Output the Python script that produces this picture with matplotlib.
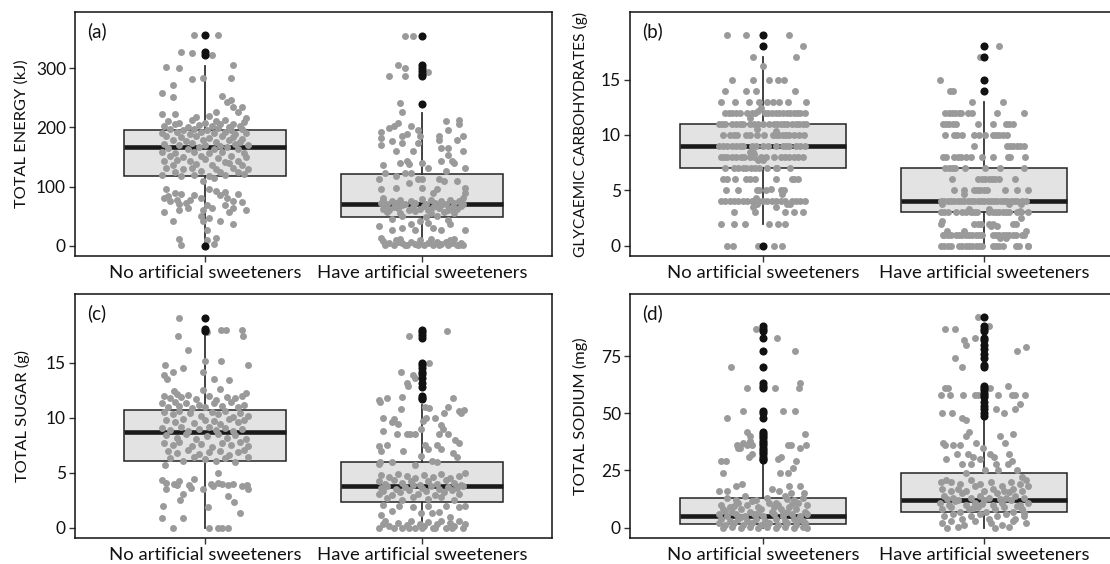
import matplotlib
matplotlib.use("Agg")
import matplotlib.pyplot as plt

# ---------------- data ----------------
categories = ["No artificial sweeteners", "Have artificial sweeteners"]
panel_tags = ["(a)", "(b)", "(c)", "(d)"]
y_titles = ["TOTAL ENERGY (kJ)", "GLYCAEMIC CARBOHYDRATES (g)",
            "TOTAL SUGAR (g)", "TOTAL SODIUM (mg)"]
y_ticks_a = [0, 100, 200, 300]
y_ticks_b = [0, 5, 10, 15]
y_ticks_c = [0, 5, 10, 15]
y_ticks_d = [0, 25, 50, 75]

# box statistics [q1, median, q3, whisker_low, whisker_high]
energy_box = [[118, 167, 196, 2, 304], [48, 71, 122, 0, 225]]
glyc_box = [[7, 9, 11, 2, 17], [3, 4, 7, 0, 13]]
sugar_box = [[6.1, 8.7, 10.75, 0, 17.7], [2.3, 3.8, 6.0, 0, 11.2]]
sodium_box = [[1.8, 5, 12.8, 0, 28.4], [7, 12, 23.8, 0, 47.4]]

# outliers
energy_out = [[356, 327, 323, 0], [355, 305, 300, 295, 290, 287, 240]]
glyc_out = [[19, 18, 0], [18, 17, 15, 14]]
sugar_out = [[19.1, 18.1, 17.9],
             [18.0, 17.8, 17.5, 17.3, 15.0, 14.8, 14.5, 14.2, 14.0, 13.6,
              13.2, 12.8, 12.0, 11.8, 11.7]]
sodium_out = [[88, 87, 86, 83, 77, 70, 63, 62, 61, 51, 50, 48, 42, 41, 40, 39,
               38, 37, 36, 35, 34, 33, 32, 31, 30, 29.5],
              [92, 88, 87, 86, 83, 82, 80, 78, 76, 74, 71, 70, 62, 61, 60, 59,
               58, 57, 55, 53, 52, 50, 49]]

# jittered observations: (jitter offset, value)
energy_no = [
    (-0.05, 356), (0.06, 356), (-0.11, 327), (-0.06, 325), (0.03, 323),
    (-0.18, 302), (-0.12, 300), (0.13, 305), (-0.06, 281), (-0.01, 284), (0.12, 283),
    (-0.15, 271), (-0.20, 258), (-0.15, 252), (0.08, 253), (0.12, 247), (0.10, 243),
    (0.13, 235), (0.17, 235), (0.15, 226), (-0.20, 222), (-0.14, 222), (-0.04, 218),
    (0.02, 220), (0.05, 226), (0.19, 216),
    (-0.17, 211), (-0.12, 208), (-0.06, 212), (0.00, 207), (0.05, 210), (0.09, 213), (0.13, 206), (0.18, 209),
    (-0.19, 203), (-0.14, 205), (-0.08, 201), (-0.03, 204), (0.03, 202), (0.07, 205), (0.11, 200), (0.16, 203),
    (-0.16, 197), (-0.10, 196), (-0.05, 198), (0.01, 195), (0.06, 199), (0.12, 196), (0.17, 198),
    (-0.20, 191), (-0.13, 192), (-0.07, 189), (-0.02, 193), (0.04, 190), (0.09, 192), (0.14, 188), (0.19, 191),
    (-0.18, 185), (-0.11, 183), (-0.04, 186), (0.02, 182), (0.08, 185), (0.13, 184), (0.17, 181),
    (-0.15, 178), (-0.09, 177), (-0.01, 179), (0.05, 176), (0.11, 178), (0.16, 175),
    (-0.19, 172), (-0.12, 170), (-0.06, 173), (0.00, 171), (0.07, 169), (0.14, 172), (0.20, 170),
    (-0.17, 165), (-0.08, 164), (-0.03, 166), (0.04, 163), (0.10, 166), (0.15, 164),
    (-0.20, 158), (-0.14, 157), (-0.05, 159), (0.02, 156), (0.08, 158), (0.18, 157),
    (-0.16, 151), (-0.10, 150), (-0.02, 152), (0.06, 149), (0.12, 151), (0.19, 150),
    (-0.19, 144), (-0.13, 145), (-0.07, 143), (0.00, 146), (0.09, 142), (0.15, 144),
    (-0.15, 137), (-0.04, 138), (0.03, 136), (0.11, 139), (0.17, 137),
    (-0.18, 131), (-0.10, 130), (-0.06, 132), (0.05, 129), (0.13, 131), (0.20, 130),
    (-0.14, 125), (-0.02, 126), (0.07, 124), (0.15, 125),
    (-0.20, 119), (-0.11, 118), (-0.05, 120), (0.02, 117), (0.09, 119), (0.18, 121),
    (-0.01, 109), (0.04, 115), (-0.18, 95), (-0.14, 89), (-0.11, 87), (-0.19, 81),
    (-0.16, 75), (-0.13, 78), (-0.09, 72), (-0.05, 86), (-0.02, 81), (0.02, 95),
    (0.05, 92), (0.09, 91), (0.10, 80), (0.13, 75), (0.17, 74), (0.01, 69), (0.03, 64),
    (0.09, 69), (0.13, 64), (-0.19, 57), (-0.12, 60), (-0.08, 64), (-0.01, 61), (0.19, 60),
    (-0.15, 41), (-0.01, 41), (0.07, 41), (0.13, 36), (0.01, 26), (-0.12, 11), (-0.11, 1),
    (0.01, 10), (0.05, 13), (0.04, 3), (-0.02, 50), (0.02, 47),
    (-0.17, 84), (-0.07, 78), (0.07, 85), (0.15, 88), (-0.12, 70), (0.11, 57),
]
energy_have = [
    (-0.08, 355), (-0.04, 354), (-0.11, 305), (-0.08, 300), (-0.15, 287), (-0.08, 287),
    (0.03, 293), (-0.10, 241), (-0.09, 226),
    (-0.11, 208), (-0.13, 202), (-0.15, 199), (-0.19, 193), (-0.19, 182), (-0.19, 171),
    (-0.14, 177), (-0.09, 174), (-0.09, 185), (-0.05, 202), (-0.07, 189), (-0.02, 195),
    (-0.01, 185), (-0.02, 174), (-0.04, 160), (-0.12, 160),
    (0.11, 210), (0.17, 213), (0.17, 206), (0.12, 195), (0.08, 185), (0.08, 179), (0.16, 179),
    (0.19, 185), (0.09, 165), (0.12, 165), (0.19, 160), (0.12, 154), (0.09, 144), (0.14, 144),
    (0.15, 140), (0.20, 131),
    (-0.18, 137), (-0.10, 140), (-0.07, 143), (-0.06, 138), (0.00, 140), (0.03, 131), (0.11, 127),
    (-0.17, 123), (-0.12, 118), (-0.08, 123), (-0.05, 123), (-0.02, 113), (0.00, 113),
    (0.08, 112), (0.10, 109), (0.16, 109),
    (-0.20, 112), (-0.19, 95), (-0.18, 81), (-0.12, 98), (-0.06, 106), (0.00, 98),
    (0.05, 89), (0.07, 95), (0.20, 98), (0.20, 89), (0.19, 80),
    (-0.18, 77), (-0.14, 75), (-0.10, 78), (-0.05, 76), (0.00, 79), (0.04, 77), (0.09, 75), (0.13, 78), (0.17, 76),
    (-0.19, 72), (-0.16, 70), (-0.12, 73), (-0.08, 71), (-0.03, 72), (0.02, 70), (0.06, 73), (0.11, 71), (0.15, 72), (0.19, 70),
    (-0.17, 67), (-0.13, 66), (-0.09, 68), (-0.04, 65), (0.01, 67), (0.05, 66), (0.09, 68), (0.14, 65), (0.18, 67),
    (-0.18, 62), (-0.15, 61), (-0.11, 63), (-0.06, 60), (-0.01, 62), (0.03, 61), (0.08, 63), (0.12, 60), (0.16, 62),
    (-0.16, 57), (-0.10, 56), (-0.03, 58), (0.04, 55), (0.10, 57), (0.15, 56),
    (-0.09, 50), (0.02, 48), (0.07, 51), (-0.14, 45), (0.12, 44),
    (-0.20, 33), (-0.14, 27), (-0.09, 30), (-0.05, 36), (-0.03, 27), (-0.01, 41), (0.03, 38),
    (0.05, 30), (0.09, 27), (0.13, 36), (0.20, 27), (-0.19, 13),
    (-0.18, 8), (-0.15, 5), (-0.13, 2), (-0.11, 7), (-0.09, 4), (-0.07, 1), (-0.05, 6),
    (-0.03, 3), (-0.01, 9), (0.01, 2), (0.03, 5), (0.05, 1), (0.07, 7), (0.09, 3),
    (0.11, 6), (0.12, 1), (0.14, 4), (0.16, 2), (0.18, 5), (0.19, 1),
    (-0.17, 1), (-0.12, 10), (-0.08, 1), (-0.02, 1), (0.04, 11), (0.08, 1), (0.13, 9),
    (0.17, 1), (-0.10, 12), (0.15, 12),
]

# glycaemic carbohydrates: values occur at levels, offsets per level
glyc_no_levels = [19, 18, 17, 16.2, 15, 14, 13, 12.4, 12.2, 12, 11.5, 11, 10.5, 10.4, 10,
                  9, 8.5, 8.3, 8, 7.7, 7, 6, 5.1, 5, 4.7, 4.3, 4, 3.8, 3.5, 3, 2, 0]
glyc_no_dx = [
    [-0.16, -0.075, 0.12], [0.18], [-0.045, 0.15], [0.0],
    [-0.14, -0.045, 0.03, 0.07, 0.095], [-0.17, -0.075, -0.03, 0.145],
    [-0.19, -0.125, -0.063, -0.015, 0.02, 0.045, 0.075, 0.115, 0.195], [-0.01], [-0.02],
    [-0.17, -0.155, -0.14, -0.12, -0.105, -0.07, -0.05, -0.035, 0.01, 0.025, 0.04, 0.06,
     0.075, 0.09, 0.11, 0.125, 0.14, 0.155, 0.17, 0.19], [-0.06],
    [-0.2, -0.185, -0.17, -0.14, -0.12, -0.105, -0.09, -0.06, -0.04, -0.02, 0.0, 0.03, 0.05,
     0.065, 0.08, 0.095, 0.11, 0.13, 0.15, 0.165, 0.18, 0.195], [-0.025], [0.06],
    [-0.18, -0.15, -0.13, -0.115, -0.075, -0.06, -0.025, 0.005, 0.045, 0.06, 0.075, 0.09,
     0.105, 0.12, 0.14, 0.165, 0.185],
    [-0.2, -0.18, -0.16, -0.14, -0.12, -0.105, -0.09, -0.05, -0.03, 0.0, 0.025, 0.06, 0.09,
     0.105, 0.12, 0.15, 0.17, 0.19], [-0.06, -0.045], [-0.04],
    [-0.19, -0.175, -0.16, -0.14, -0.12, -0.1, -0.085, -0.06, -0.04, -0.01, 0.015, 0.05,
     0.08, 0.1, 0.12, 0.14, 0.16, 0.18], [-0.02, 0.0],
    [-0.17, -0.13, -0.11, -0.09, -0.075, -0.055, -0.035, -0.015, 0.02, 0.06, 0.065, 0.125],
    [-0.18, -0.16, -0.125, -0.075, -0.06, -0.035, 0.06, 0.13, 0.14, 0.16], [0.035],
    [-0.165, -0.11, -0.025, -0.015, 0.015, 0.08, 0.095], [0.085], [-0.03],
    [-0.19, -0.17, -0.15, -0.13, -0.11, -0.09, -0.07, -0.05, -0.03, -0.015, 0.0, 0.02, 0.04,
     0.06, 0.08, 0.1, 0.13, 0.15, 0.17, 0.19], [-0.025, 0.11, 0.125], [-0.045, 0.06],
    [-0.13, -0.035, 0.1, 0.14, 0.18], [-0.19, -0.13, -0.08, 0.03, 0.07, 0.1],
    [-0.16, -0.135, -0.02, 0.05, 0.085],
]
glyc_have_levels = [18, 17, 15, 14, 13, 12, 11, 10, 9, 8, 7, 6, 5, 4.7, 4, 3.8, 3, 3.3, 3.1,
                    2.5, 2.2, 2, 1.8, 1.3, 1, 0.7, 0]
glyc_have_dx = [
    [0.065], [-0.02], [-0.20], [-0.155, -0.14], [-0.055, 0.085],
    [-0.176, -0.161, -0.146, -0.131, -0.116, -0.105, -0.071, -0.053, 0.06, 0.178],
    [-0.188, -0.173, -0.158, -0.14, -0.128, -0.03, 0.038, 0.098, 0.113, 0.128],
    [-0.178, -0.135, -0.123, -0.098, -0.045, -0.023, 0.005, 0.038, 0.053, 0.068, 0.083, 0.105],
    [-0.045, 0.102, 0.117, 0.132, 0.147, 0.163, 0.178],
    [-0.188, -0.173, -0.135, -0.12, -0.105, -0.083, -0.06, -0.01, 0.038, 0.108, 0.116, 0.184],
    [-0.176, -0.161, -0.146, -0.131, -0.086, 0.005, 0.072, 0.178],
    [-0.147, -0.026, -0.011, 0.005, 0.02, 0.035, 0.05, 0.065, 0.14],
    [-0.135, -0.093, -0.048, -0.033, -0.018, -0.003, 0.012, 0.095, 0.15, 0.196], [-0.09],
    [-0.195, -0.18, -0.165, -0.15, -0.135, -0.12, -0.105, -0.09, -0.075, -0.06, -0.045, -0.03,
     -0.015, 0.0, 0.015, 0.03, 0.045, 0.06, 0.075, 0.09, 0.105, 0.12, 0.135, 0.15, 0.17, 0.19],
    [-0.19, 0.11, 0.165],
    [-0.195, -0.18, -0.165, -0.128, -0.098, -0.083, -0.06, -0.045, -0.033, 0.023, 0.038,
     0.053, 0.068, 0.083, 0.098, 0.113, 0.15, 0.165, 0.196], [-0.07, 0.02], [0.16],
    [0.165], [-0.19], [-0.195, -0.045, -0.03, -0.015, 0.023, 0.038, 0.128, 0.143], [0.03, 0.06],
    [-0.17, 0.19, -0.09],
    [-0.188, -0.18, -0.165, -0.15, -0.128, -0.113, -0.098, -0.083, -0.068, -0.053, -0.038,
     -0.023, -0.008, 0.038, 0.053, 0.068, 0.083, 0.098, 0.113, 0.128, 0.143, 0.173, 0.18],
    [0.07, 0.1],
    [-0.195, -0.18, -0.165, -0.15, -0.113, -0.098, -0.083, -0.068, -0.053, -0.038, -0.023,
     -0.008, 0.038, 0.053, 0.068, 0.083, 0.143, 0.158, 0.196, 0.2],
]

sugar_no = [
    (-0.12, 19.1), (0.075, 18.0), (0.095, 18.0), (0.17, 18.0), (0.01, 17.8), (0.175, 17.4),
    (-0.125, 17.4), (-0.08, 16.2), (0.0, 15.2), (0.075, 15.2), (0.2, 14.8), (-0.185, 14.8),
    (-0.10, 14.5), (-0.15, 14.2), (-0.01, 14.2), (-0.19, 13.9), (0.04, 13.5), (0.11, 13.4),
    (-0.175, 13.5), (-0.01, 12.5), (0.07, 12.6), (0.19, 12.3), (-0.145, 12.4),
    (-0.19, 12.0), (-0.16, 11.8), (-0.13, 12.2), (-0.11, 11.9), (-0.08, 12.1), (-0.04, 11.7),
    (0.02, 12.0), (0.05, 11.6), (0.1, 11.9), (0.14, 11.8), (0.17, 12.0),
    (-0.2, 11.3), (-0.17, 11.0), (-0.14, 11.4), (-0.12, 11.1), (-0.09, 11.3), (-0.06, 10.9),
    (-0.03, 11.2), (0.0, 11.0), (0.04, 11.3), (0.08, 11.1), (0.12, 11.4), (0.15, 11.0), (0.18, 11.2),
    (-0.19, 10.5), (-0.15, 10.3), (-0.12, 10.6), (-0.07, 10.4), (-0.02, 10.2), (0.03, 10.5),
    (0.06, 10.3), (0.09, 10.6), (0.13, 10.1), (0.16, 10.4), (0.2, 10.2),
    (-0.18, 9.8), (-0.14, 9.6), (-0.1, 9.9), (-0.05, 9.5), (0.0, 9.8), (0.04, 9.7), (0.07, 9.4),
    (0.11, 9.9), (0.15, 9.6), (0.18, 9.8),
    (-0.2, 9.1), (-0.16, 8.9), (-0.11, 9.2), (-0.08, 8.8), (-0.03, 9.0), (0.02, 9.2), (0.05, 8.9),
    (0.09, 9.1), (0.13, 8.8), (0.17, 9.0),
    (-0.18, 8.4), (-0.13, 8.2), (-0.09, 8.5), (-0.04, 8.1), (0.01, 8.3), (0.06, 8.5), (0.1, 8.2),
    (0.14, 8.4), (0.19, 8.1),
    (-0.19, 7.7), (-0.15, 7.5), (-0.12, 7.8), (-0.06, 7.4), (-0.02, 7.6), (0.03, 7.3), (0.08, 7.7),
    (0.12, 7.5), (0.16, 7.8), (0.2, 7.4),
    (-0.17, 7.0), (-0.13, 6.8), (-0.08, 7.1), (-0.03, 6.7), (0.02, 6.9), (0.07, 7.0), (0.11, 6.6),
    (0.15, 6.9), (0.18, 7.1),
    (-0.16, 6.3), (-0.1, 6.1), (-0.05, 6.4), (0.0, 6.2), (0.05, 6.1), (0.09, 6.3), (0.14, 6.0), (0.2, 6.4),
    (-0.185, 5.7), (0.06, 5.0), (-0.2, 4.3), (-0.18, 4.1), (-0.145, 4.0), (-0.12, 4.2), (-0.18, 3.5),
    (-0.065, 3.6), (-0.01, 3.5), (0.025, 4.0), (0.038, 3.8), (0.058, 4.1), (0.08, 4.0), (0.105, 3.9),
    (0.13, 4.0), (0.17, 3.8), (0.195, 3.9), (0.2, 3.5), (-0.075, 3.9), (-0.1, 3.1), (-0.115, 2.5),
    (0.105, 2.9), (0.133, 2.3), (-0.195, 2.0), (0.013, 1.9), (0.16, 1.3), (-0.2, 0.9), (-0.1, 0.9),
    (-0.15, 0.0), (0.017, 0.0), (0.058, 0.0), (0.08, 0.0), (0.104, 0.0), (-0.05, 4.4), (-0.13, 3.9),
]
sugar_have = [
    (0.115, 17.9), (-0.06, 17.4), (0.035, 15.0), (-0.095, 14.2), (-0.04, 13.9), (-0.03, 13.6),
    (-0.07, 13.2), (-0.065, 12.9), (-0.09, 11.9), (0.145, 11.8), (-0.2, 11.6), (-0.195, 11.4),
    (-0.16, 11.8), (-0.095, 10.8), (0.012, 11.0), (0.033, 10.9), (0.12, 11.0), (0.1, 10.4),
    (0.17, 10.6), (0.195, 10.7), (0.178, 10.4), (-0.18, 10.0), (-0.13, 9.9), (-0.14, 9.6),
    (-0.11, 9.4), (0.003, 9.7), (0.02, 10.0), (0.061, 10.0), (0.086, 9.3),
    (-0.18, 8.8), (-0.116, 8.5), (-0.07, 8.5), (-0.054, 8.5), (-0.03, 8.5), (-0.005, 9.0),
    (0.078, 8.5), (0.095, 9.0), (0.12, 8.5), (0.153, 8.0), (0.17, 7.7),
    (-0.2, 7.4), (-0.187, 7.0), (-0.16, 7.5), (-0.088, 7.0), (0.012, 7.5), (0.028, 7.2),
    (0.07, 7.5), (0.086, 7.2), (0.145, 6.8),
    (-0.2, 5.8), (-0.195, 6.0), (-0.138, 6.0), (-0.03, 5.7), (0.045, 6.1), (0.07, 6.0),
    (0.161, 6.4), (-0.005, 6.5),
    (-0.19, 4.8), (-0.15, 4.6), (-0.11, 4.9), (-0.07, 4.7), (-0.03, 4.5), (0.01, 4.8), (0.05, 4.6),
    (0.09, 4.9), (0.13, 4.5), (0.17, 4.7), (0.2, 5.0),
    (-0.2, 4.2), (-0.17, 4.0), (-0.13, 4.3), (-0.09, 4.1), (-0.05, 4.2), (-0.01, 3.9), (0.03, 4.2),
    (0.07, 4.0), (0.11, 4.3), (0.15, 4.1), (0.18, 3.9),
    (-0.19, 3.6), (-0.16, 3.8), (-0.12, 3.5), (-0.08, 3.7), (-0.04, 3.9), (0.0, 3.6), (0.04, 3.8),
    (0.08, 3.5), (0.12, 3.7), (0.16, 3.6), (0.19, 3.8),
    (-0.2, 3.1), (-0.18, 3.3), (-0.14, 3.0), (-0.1, 3.2), (-0.06, 3.4), (-0.02, 3.1), (0.02, 3.3),
    (0.06, 3.0), (0.1, 3.2), (0.14, 3.4), (0.17, 3.1),
    (-0.16, 2.7), (-0.09, 2.5), (-0.04, 2.8), (0.03, 2.6), (0.09, 2.8), (0.15, 2.5),
    (-0.18, 2.1), (-0.14, 1.5), (-0.105, 2.0), (-0.04, 1.9), (-0.005, 1.3), (0.028, 2.0),
    (0.045, 1.3), (0.078, 1.4), (0.111, 2.0), (0.17, 1.9), (0.2, 2.0), (-0.19, 1.1), (0.13, 1.0),
    (-0.2, 0.0), (-0.18, 0.3), (-0.17, 0.6), (-0.15, 0.1), (-0.13, 0.0), (-0.11, 0.4), (-0.09, 0.0),
    (-0.07, 0.2), (-0.05, 0.6), (-0.03, 0.0), (-0.01, 0.3), (0.01, 0.1), (0.03, 0.5), (0.05, 0.0),
    (0.07, 0.3), (0.09, 0.6), (0.11, 0.0), (0.13, 0.4), (0.15, 0.1), (0.17, 0.6), (0.19, 0.0),
    (0.2, 0.3), (-0.06, 0.0), (0.0, 0.0), (0.06, 0.0), (0.14, 0.0),
]

sodium_no = [
    (-0.03, 87), (0.065, 83), (0.145, 77), (-0.145, 70), (-0.07, 61), (0.055, 61), (0.17, 63),
    (0.165, 61), (-0.09, 51), (0.09, 51), (0.145, 51), (-0.16, 48), (-0.07, 42), (-0.06, 40),
    (0.19, 41), (-0.117, 36), (-0.104, 35), (-0.09, 37), (-0.072, 36), (-0.059, 38), (-0.048, 36),
    (0.112, 36), (0.128, 36), (0.168, 35), (0.195, 36), (-0.112, 35), (-0.064, 31), (-0.051, 32),
    (0.069, 30), (0.08, 31), (-0.187, 29), (-0.168, 29), (0.152, 29), (0.136, 26), (0.077, 24),
    (0.112, 24), (-0.181, 24), (-0.12, 18), (-0.096, 19), (0.04, 17), (0.072, 16), (0.12, 18),
    (0.168, 18), (-0.197, 16), (-0.163, 16), (0.128, 15), (0.184, 15),
    (-0.16, 13), (-0.12, 12), (-0.08, 14), (-0.03, 12), (0.02, 13), (0.06, 11), (0.1, 14), (0.14, 12), (0.18, 13),
    (-0.19, 10), (-0.15, 9), (-0.11, 11), (-0.07, 10), (-0.02, 9), (0.03, 11), (0.07, 10), (0.12, 9), (0.16, 11), (0.2, 10),
    (-0.18, 8), (-0.14, 7), (-0.1, 8), (-0.06, 7), (-0.01, 8), (0.04, 7), (0.08, 8), (0.11, 7), (0.15, 8), (0.19, 7),
    (-0.2, 6), (-0.16, 5), (-0.12, 6), (-0.08, 5), (-0.04, 6), (0.0, 5), (0.05, 6), (0.09, 5), (0.13, 6), (0.17, 5), (0.2, 6),
    (-0.19, 4), (-0.15, 3), (-0.11, 4), (-0.07, 3), (-0.03, 4), (0.01, 3), (0.06, 4), (0.1, 3), (0.14, 4), (0.18, 3),
    (-0.2, 2), (-0.17, 1), (-0.13, 2), (-0.09, 1), (-0.05, 2), (-0.01, 1), (0.03, 2), (0.07, 1), (0.11, 2), (0.15, 1), (0.19, 2),
    (-0.18, 0), (-0.14, 0.5), (-0.1, 0), (-0.06, 0.5), (-0.02, 0), (0.02, 0.5), (0.06, 0), (0.1, 0.5), (0.14, 0), (0.18, 0.5), (0.2, 0),
    (-0.13, 9.5), (0.05, 9), (-0.05, 11.5), (0.13, 10.5), (-0.17, 7.5), (0.09, 6.5), (-0.1, 4.5),
    (0.16, 3.5), (-0.02, 6.5), (0.11, 12.5),
]
sodium_have = [
    (-0.027, 92), (-0.179, 87), (-0.131, 87), (0.021, 88), (-0.043, 83), (-0.091, 82), (-0.083, 80),
    (-0.134, 74), (-0.102, 70), (0.189, 79), (0.149, 77), (0.109, 62), (0.026, 61), (-0.179, 61),
    (-0.163, 61), (-0.195, 58), (-0.155, 58), (-0.094, 58), (-0.043, 58), (-0.027, 58), (0.061, 58),
    (0.125, 58), (0.137, 58), (0.185, 58), (0.053, 52), (0.141, 52), (0.161, 54), (-0.192, 50),
    (-0.147, 50), (-0.099, 48), (-0.083, 47), (0.089, 50), (-0.067, 42), (-0.083, 40), (0.129, 41),
    (0.073, 40), (-0.187, 37), (-0.179, 36), (-0.139, 36), (-0.107, 36), (-0.035, 37), (0.093, 37),
    (-0.006, 35), (-0.123, 32), (-0.075, 32), (-0.051, 31), (0.026, 32), (0.045, 31), (0.113, 32),
    (-0.171, 30), (-0.059, 28), (-0.019, 30), (-0.099, 28), (0.053, 28), (0.109, 28), (0.125, 29),
    (-0.083, 24), (0.005, 25), (0.061, 25), (0.149, 25), (0.173, 22), (-0.171, 21), (-0.195, 20),
    (-0.15, 20), (-0.11, 19), (-0.06, 21), (-0.02, 19), (0.03, 20), (0.08, 18), (0.12, 20), (0.16, 19), (0.19, 21),
    (-0.19, 17), (-0.15, 16), (-0.12, 17), (-0.08, 16), (-0.04, 18), (0.0, 16), (0.04, 17), (0.09, 16),
    (0.13, 17), (0.17, 16), (0.2, 18),
    (-0.18, 14), (-0.14, 13), (-0.1, 15), (-0.06, 13), (-0.02, 14), (0.02, 13), (0.06, 15), (0.1, 13), (0.14, 14), (0.18, 13),
    (-0.2, 11), (-0.16, 10), (-0.12, 12), (-0.08, 10), (-0.04, 11), (0.0, 12), (0.04, 10), (0.08, 11),
    (0.12, 12), (0.16, 10), (0.2, 11),
    (-0.19, 8), (-0.15, 9), (-0.11, 7), (-0.07, 8), (-0.03, 9), (0.01, 7), (0.05, 8), (0.09, 9), (0.13, 7), (0.17, 8),
    (-0.18, 5), (-0.14, 6), (-0.1, 4), (-0.06, 5), (-0.02, 6), (0.02, 4), (0.06, 5), (0.1, 6), (0.14, 4), (0.18, 5),
    (-0.19, 2), (-0.15, 3), (-0.09, 1), (-0.04, 3), (0.03, 2), (0.08, 1), (0.13, 3), (0.19, 2),
    (-0.17, 0), (-0.12, 0.5), (0.05, 0), (0.11, 0.5),
    (-0.13, 11.5), (0.07, 12.5), (-0.05, 8.5), (0.15, 9.5), (-0.17, 12.5), (0.11, 15.5),
    (-0.01, 10.5), (0.18, 6.5),
]

# ---------------- drawing ----------------
plt.rcParams['font.family'] = ['Lato', 'DejaVu Sans']
W, H = 1110, 564
fig = plt.figure(figsize=(W / 100, H / 100), dpi=100)

GRAY_PT = "#9a9a9a"
BOX_FILL = "#e3e3e3"
EDGE = "#222222"


def levels_to_pairs(levels, dxs):
    out = []
    for lv, row in zip(levels, dxs):
        for d in row:
            out.append((d, lv))
    return out


def panel(rect_px, box, outl, jit, yticks, ylim, ytitle, tag, label_x_px, label_size=11.8):
    l, t, r, b = rect_px
    ax = fig.add_axes([l / W, 1 - b / H, (r - l) / W, (b - t) / H])
    stats = []
    for s in box:
        stats.append(dict(q1=s[0], med=s[1], q3=s[2], whislo=s[3], whishi=s[4],
                          fliers=[]))
    ax.bxp(stats, positions=[1, 2], widths=0.75, patch_artist=True,
           showfliers=False, showcaps=False,
           boxprops=dict(facecolor=BOX_FILL, edgecolor=EDGE, linewidth=1.1),
           medianprops=dict(color="#1a1a1a", linewidth=3.3, solid_capstyle="butt"),
           whiskerprops=dict(color="#333333", linewidth=1.3), zorder=1)
    for gi, pts in enumerate(jit):
        xs = [gi + 1 + p[0] for p in pts]
        ys = [p[1] for p in pts]
        ax.scatter(xs, ys, s=25, color=GRAY_PT, linewidths=0, zorder=3)
    for gi, vals in enumerate(outl):
        ax.scatter([gi + 1] * len(vals), vals, s=34, color="#111111",
                   linewidths=0, zorder=4)
    ax.set_xlim(0.4, 2.6)
    ax.set_ylim(*ylim)
    ax.set_xticks([1, 2])
    ax.set_xticklabels(categories, fontsize=13.3, color="#111111")
    ax.set_yticks(yticks)
    ax.set_yticklabels([str(v) for v in yticks], fontsize=12.5, color="#111111")
    ax.tick_params(direction="out", length=4.5, width=1, color="#333333", pad=2)
    for sp in ax.spines.values():
        sp.set_linewidth(1.1)
        sp.set_color("#111111")
    ax.set_ylabel(ytitle, fontsize=label_size, color="#111111")
    ax.yaxis.label.set_va("center")
    ax.yaxis.set_label_coords((label_x_px - l) / (r - l), 0.5)
    ax.text(0.5, ylim[0] + (ylim[1] - ylim[0]) * 0.922, tag, ha="center", va="center",
            fontsize=13.5, color="#111111")
    return ax


panel((75, 12, 552, 256), energy_box, energy_out, [energy_no, energy_have],
      y_ticks_a, (-17.4, 395), y_titles[0], panel_tags[0], 22)
panel((630, 12, 1117, 256), glyc_box, glyc_out,
      [levels_to_pairs(glyc_no_levels, glyc_no_dx),
       levels_to_pairs(glyc_have_levels, glyc_have_dx)],
      y_ticks_b, (-0.93, 21.1), y_titles[1], panel_tags[1], 580, 11.2)
panel((75, 294, 552, 538), sugar_box, sugar_out, [sugar_no, sugar_have],
      y_ticks_c, (-0.95, 21.27), y_titles[2], panel_tags[2], 22)
panel((630, 294, 1117, 538), sodium_box, sodium_out, [sodium_no, sodium_have],
      y_ticks_d, (-4.5, 102.1), y_titles[3], panel_tags[3], 580)

fig.savefig("out.png", dpi=100)
